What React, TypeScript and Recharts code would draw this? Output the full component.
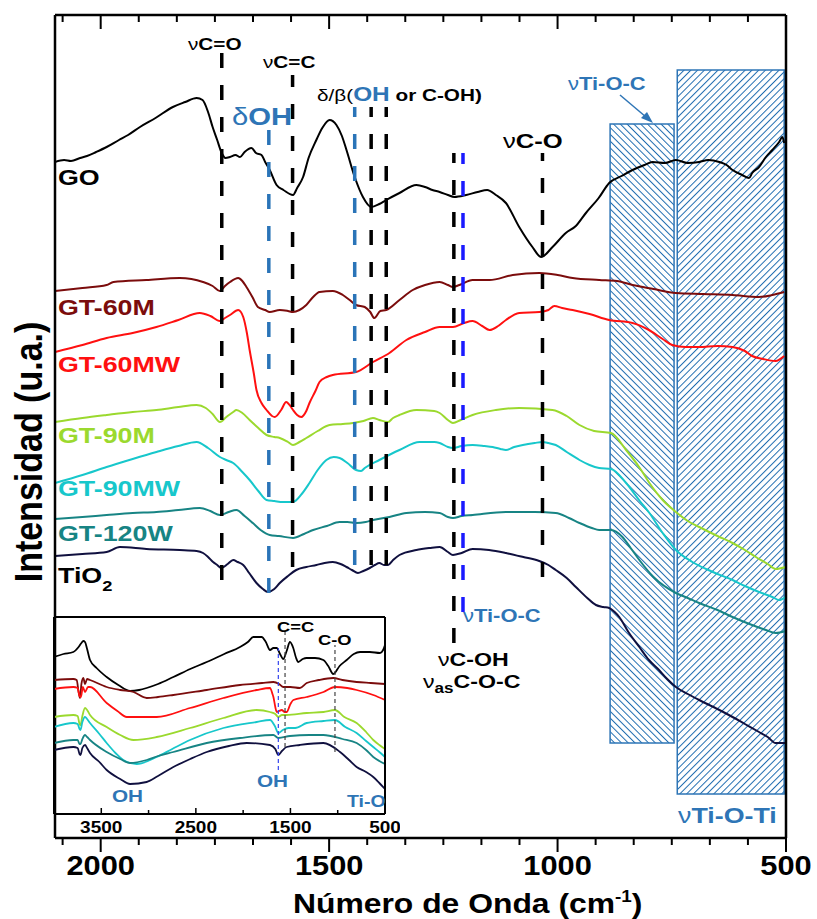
import { LineChart, Line, XAxis, YAxis, ReferenceLine, ReferenceArea } from 'recharts'

const FONT = '"Liberation Sans", Arial, Helvetica, sans-serif'

// espectros principales: [número de onda, intensidad (u.a., desplazada)]
const goData = [
  [2100, 676], [2080, 678], [2065, 677], [2045, 680], [2030, 682], [2010, 686], [1987, 691], [1960, 698],
  [1940, 703], [1914, 711], [1880, 720], [1842, 731], [1815, 736], [1790, 740], [1777, 738], [1765, 726],
  [1755, 711], [1745, 698], [1736, 686], [1727, 680], [1717, 681], [1705, 683], [1695, 681], [1685, 686],
  [1670, 690], [1660, 685], [1648, 683], [1640, 676], [1630, 668], [1615, 653], [1600, 648], [1579, 643],
  [1570, 650], [1557, 661], [1545, 680], [1528, 698], [1515, 710], [1499, 718], [1484, 713], [1472, 702],
  [1462, 688], [1444, 661], [1426, 641], [1408, 631], [1390, 634], [1375, 638], [1346, 645], [1309, 653],
  [1290, 651], [1274, 648], [1258, 646], [1240, 643], [1226, 641], [1200, 643], [1175, 646], [1154, 648],
  [1135, 643], [1113, 635], [1084, 611], [1055, 591], [1036, 581], [1011, 591], [982, 605], [960, 612],
  [938, 625], [910, 640], [887, 655], [860, 662], [836, 668], [810, 673], [792, 676], [765, 675], [741, 678],
  [715, 675], [690, 676], [670, 678], [646, 676], [630, 673], [617, 668], [596, 663], [581, 660], [574, 665],
  [559, 671], [544, 681], [530, 688], [515, 696], [508, 701], [504, 695],
]
const gt60mData = [
  [2100, 547], [2040, 550], [1987, 553], [1972, 556], [1900, 558], [1827, 560], [1776, 556], [1755, 552],
  [1739, 547], [1728, 552], [1717, 556], [1699, 560], [1690, 557], [1681, 551], [1668, 541], [1656, 531],
  [1640, 528], [1630, 526], [1608, 528], [1590, 527], [1579, 526], [1565, 528], [1550, 533], [1535, 541],
  [1521, 546], [1492, 547], [1470, 543], [1455, 538], [1441, 533], [1422, 531], [1410, 526], [1401, 520],
  [1388, 527], [1375, 528], [1346, 538], [1317, 548], [1290, 553], [1258, 556], [1240, 553], [1229, 551],
  [1215, 553], [1186, 558], [1149, 558], [1098, 563], [1040, 565], [1000, 563], [967, 560], [909, 558],
  [870, 557], [836, 553], [790, 549], [741, 545], [680, 544], [617, 543], [559, 541], [530, 543], [504, 546],
]
const gt60mwData = [
  [2100, 486], [2040, 493], [1987, 500], [1930, 505], [1878, 511], [1830, 518], [1783, 525], [1760, 522],
  [1739, 517], [1728, 520], [1717, 523], [1699, 528], [1688, 521], [1680, 505], [1674, 488], [1665, 465],
  [1659, 448], [1648, 435], [1637, 428], [1625, 422], [1619, 421], [1605, 428], [1594, 436], [1585, 432],
  [1579, 428], [1570, 423], [1561, 421], [1550, 427], [1543, 435], [1530, 447], [1521, 456], [1505, 461],
  [1492, 463], [1441, 466], [1404, 476], [1368, 485], [1331, 498], [1290, 506], [1258, 511], [1229, 511],
  [1205, 515], [1186, 517], [1165, 512], [1149, 508], [1130, 512], [1113, 518], [1084, 525], [1040, 526],
  [1020, 528], [1007, 532], [990, 530], [967, 528], [930, 524], [887, 518], [836, 515], [800, 508],
  [770, 499], [749, 493], [720, 491], [690, 491], [650, 492], [617, 491], [590, 487], [574, 482],
  [550, 479], [523, 477], [504, 482],
]
const gt90mData = [
  [2100, 416], [2040, 420], [1987, 423], [1930, 426], [1878, 428], [1830, 431], [1790, 433], [1770, 430],
  [1755, 424], [1739, 416], [1725, 421], [1710, 426], [1703, 428], [1690, 425], [1674, 418], [1655, 410],
  [1637, 403], [1620, 401], [1608, 400], [1590, 396], [1579, 393], [1565, 396], [1550, 400], [1525, 407],
  [1499, 413], [1470, 414], [1448, 415], [1425, 417], [1404, 420], [1390, 418], [1371, 416], [1360, 420],
  [1346, 423], [1309, 428], [1270, 427], [1258, 425], [1240, 418], [1229, 415], [1212, 418], [1186, 423],
  [1135, 428], [1084, 430], [1011, 428], [980, 422], [952, 413], [920, 407], [883, 405], [850, 388],
  [820, 370], [799, 355], [770, 338], [741, 326], [715, 317], [690, 311], [650, 302], [617, 295],
  [590, 288], [566, 281], [540, 274], [523, 269], [501, 271],
]
const gt90mwData = [
  [2100, 355], [2040, 363], [1987, 371], [1930, 379], [1878, 386], [1830, 392], [1790, 396], [1765, 390],
  [1739, 381], [1725, 378], [1710, 375], [1690, 366], [1674, 358], [1655, 347], [1637, 338], [1620, 337],
  [1601, 336], [1579, 336], [1560, 344], [1543, 355], [1525, 368], [1506, 378], [1490, 381], [1477, 380],
  [1460, 375], [1441, 368], [1430, 367], [1422, 370], [1390, 378], [1346, 388], [1302, 396], [1270, 396],
  [1258, 395], [1240, 391], [1229, 390], [1210, 392], [1186, 393], [1160, 392], [1142, 391], [1125, 389],
  [1113, 388], [1095, 391], [1076, 393], [1050, 395], [1033, 396], [1020, 395], [1004, 393], [980, 386],
  [952, 378], [930, 373], [909, 370], [883, 369], [850, 355], [820, 337], [799, 325], [770, 305],
  [741, 288], [705, 276], [660, 266], [617, 258], [590, 252], [559, 246], [530, 241], [515, 238], [501, 241],
]
const gt120wData = [
  [2100, 319], [2040, 321], [1987, 323], [1930, 325], [1878, 326], [1830, 328], [1783, 330], [1760, 327],
  [1739, 323], [1720, 326], [1703, 328], [1685, 322], [1667, 315], [1650, 308], [1630, 303], [1610, 302],
  [1579, 300], [1555, 304], [1535, 308], [1505, 312], [1477, 316], [1460, 316], [1441, 315], [1420, 316],
  [1404, 318], [1368, 321], [1331, 325], [1290, 326], [1258, 325], [1240, 321], [1229, 320], [1210, 322],
  [1186, 323], [1113, 326], [1050, 326], [1004, 325], [975, 320], [952, 315], [925, 310], [909, 308],
  [883, 308], [858, 301], [840, 290], [821, 278], [790, 261], [741, 245], [715, 240], [690, 235],
  [650, 228], [617, 221], [580, 214], [544, 208], [523, 205], [501, 207],
]
const tio2Data = [
  [2100, 282], [2040, 284], [1987, 286], [1958, 291], [1900, 289], [1827, 288], [1790, 287], [1776, 285],
  [1765, 281], [1754, 276], [1745, 273], [1736, 270], [1722, 274], [1710, 278], [1700, 276], [1688, 273],
  [1675, 265], [1659, 255], [1645, 249], [1634, 246], [1620, 249], [1608, 255], [1590, 262], [1572, 268],
  [1550, 271], [1528, 273], [1510, 275], [1492, 276], [1475, 274], [1462, 271], [1450, 268], [1437, 265],
  [1425, 267], [1411, 270], [1400, 273], [1390, 275], [1380, 273], [1371, 273], [1360, 278], [1346, 283],
  [1309, 288], [1280, 290], [1258, 291], [1240, 286], [1229, 283], [1210, 285], [1186, 289], [1150, 288],
  [1113, 285], [1075, 281], [1040, 277], [1020, 273], [1004, 268], [980, 260], [960, 251], [935, 240],
  [916, 233], [900, 231], [887, 230], [875, 226], [865, 221], [845, 206], [821, 191], [800, 178],
  [778, 168], [760, 159], [741, 151], [715, 144], [690, 138], [650, 129], [617, 121], [590, 114],
  [559, 106], [540, 101], [523, 95], [501, 95],
]

// espectros completos del recuadro (4000-500 cm-1)
const insetGO = [
  [4000, 157], [3900, 160], [3796, 162], [3740, 167], [3710, 171], [3690, 173], [3672, 172], [3650, 165],
  [3619, 154], [3550, 146], [3443, 137], [3320, 129], [3196, 123], [3100, 124], [3020, 126], [2900, 130],
  [2738, 137], [2560, 145], [2385, 152], [2200, 160], [2033, 167], [1950, 172], [1892, 177], [1805, 177],
  [1760, 172], [1716, 164], [1680, 166], [1645, 166], [1610, 160], [1575, 155], [1540, 163], [1505, 172],
  [1470, 166], [1440, 156], [1417, 152], [1370, 155], [1328, 156], [1240, 156], [1152, 154], [1100, 148],
  [1047, 140], [980, 148], [905, 154], [830, 160], [764, 162], [660, 162], [553, 161], [520, 164], [500, 169],
]
const insetGT60M = [
  [4000, 134], [3796, 135], [3760, 134], [3740, 122], [3725, 116], [3710, 130], [3690, 136], [3672, 130],
  [3650, 135], [3619, 134], [3443, 127], [3300, 124], [3160, 122], [3020, 116], [2900, 117], [2738, 119],
  [2385, 124], [2033, 129], [1800, 131], [1680, 132], [1620, 130], [1575, 127], [1500, 127], [1400, 126],
  [1328, 131], [1200, 134], [1047, 136], [950, 134], [800, 132], [650, 131], [500, 130],
]
const insetGT60MW = [
  [4000, 125], [3796, 127], [3750, 126], [3730, 118], [3715, 117], [3695, 127], [3672, 122], [3640, 127],
  [3619, 127], [3443, 111], [3330, 103], [3231, 97], [2914, 97], [2562, 106], [2209, 116], [1857, 124],
  [1716, 126], [1690, 120], [1680, 117], [1660, 107], [1645, 102], [1620, 103], [1592, 104], [1560, 102],
  [1540, 102], [1500, 110], [1469, 114], [1328, 117], [1150, 122], [1030, 127], [900, 126], [800, 124],
  [624, 119], [500, 114],
]
const insetGT90M = [
  [4000, 97], [3796, 99], [3750, 98], [3730, 90], [3720, 89], [3700, 98], [3672, 106], [3650, 104],
  [3619, 99], [3443, 87], [3300, 79], [3160, 74], [2914, 77], [2562, 86], [2209, 96], [1857, 104],
  [1716, 102], [1660, 100], [1628, 97], [1590, 99], [1540, 99], [1328, 101], [1150, 102], [1030, 104],
  [930, 97], [800, 91], [700, 82], [624, 74], [560, 69], [500, 65],
]
const insetGT90MW = [
  [4000, 87], [3796, 91], [3750, 90], [3730, 85], [3720, 84], [3700, 92], [3672, 97], [3650, 95],
  [3619, 91], [3520, 80], [3443, 71], [3350, 61], [3267, 54], [3125, 50], [2914, 57], [2750, 65],
  [2562, 74], [2209, 86], [1857, 92], [1716, 94], [1665, 88], [1628, 81], [1580, 84], [1522, 86],
  [1450, 86], [1328, 91], [1150, 93], [1030, 94], [920, 87], [800, 81], [700, 73], [624, 67], [560, 62],
  [500, 57],
]
const insetGT120W = [
  [4000, 71], [3796, 74], [3750, 74], [3730, 70], [3720, 70], [3700, 75], [3672, 79], [3650, 77],
  [3619, 74], [3443, 62], [3300, 55], [3196, 51], [3020, 54], [2900, 58], [2738, 62], [2385, 71],
  [2033, 76], [1680, 79], [1628, 76], [1505, 78], [1300, 79], [1152, 79], [950, 75], [800, 71], [700, 64],
  [624, 57], [560, 53], [500, 50],
]
const insetTiO2 = [
  [4000, 64], [3796, 67], [3750, 66], [3730, 60], [3720, 59], [3700, 66], [3672, 69], [3650, 66],
  [3619, 61], [3520, 52], [3443, 44], [3300, 35], [3196, 30], [3020, 32], [2900, 38], [2738, 47],
  [2560, 55], [2385, 62], [2150, 68], [1963, 71], [1716, 69], [1660, 65], [1628, 59], [1590, 63],
  [1540, 67], [1400, 69], [1152, 71], [975, 62], [880, 54], [800, 47], [700, 42], [624, 37], [560, 31],
  [500, 25],
]

const majorTicks = [2000, 1500, 1000, 500]
const minorTicks = [
  583.33, 666.67, 750, 833.33, 916.67, 1083.33, 1166.67, 1250, 1333.33, 1416.67, 1583.33, 1666.67, 1750,
  1833.33, 1916.67, 2083.33,
]
const insetMajor = [3500, 2500, 1500, 500]
const insetMinor = [3000, 2000, 1000]

const BLUE = '#2e75b6'
const HATCH = '#1f6cb0'
const series = [
  { name: 'GO', data: goData, inset: insetGO, color: '#000000' },
  { name: 'GT-60M', data: gt60mData, inset: insetGT60M, color: '#7b0c0c' },
  { name: 'GT-60MW', data: gt60mwData, inset: insetGT60MW, color: '#ff1010' },
  { name: 'GT-90M', data: gt90mData, inset: insetGT90M, color: '#9bd92e' },
  { name: 'GT-90MW', data: gt90mwData, inset: insetGT90MW, color: '#17c7cb' },
  { name: 'GT-120W', data: gt120wData, inset: insetGT120W, color: '#178484' },
  { name: 'TiO2', data: tio2Data, inset: insetTiO2, color: '#10103f' },
]

// líneas de asignación: número de onda, tramo vertical
const bandLines = [
  { w: 1735, y1: 258, y2: 786, c: '#000' },
  { w: 1580, y1: 271, y2: 763, c: '#000' },
  { w: 1632, y1: 245, y2: 708, c: '#2a74b8' },
  { w: 1444, y1: 273, y2: 731, c: '#2a74b8' },
  { w: 1408, y1: 273, y2: 731, c: '#000' },
  { w: 1375, y1: 273, y2: 731, c: '#000' },
  { w: 1227, y1: 195, y2: 685, c: '#000' },
  { w: 1207, y1: 226, y2: 685, c: '#1a1aff' },
  { w: 1033, y1: 261, y2: 685, c: '#000' },
]
const insetLines = [
  { w: 1557, y1: 67, y2: 184, c: '#444' },
  { w: 1628, y1: 44, y2: 166, c: '#3344ee' },
  { w: 1029, y1: 62, y2: 169, c: '#444' },
]

const toPts = (arr: number[][]) => arr.map(([w, v]) => ({ w, v }))

function BottomTick(props: any) {
  const { x, y, payload } = props
  const major = majorTicks.includes(payload.value)
  return (
    <g>
      <line x1={x} x2={x} y1={y} y2={y + (major ? 14 : 7)} stroke="#000" strokeWidth={2} />
      {major && (
        <text transform={`translate(${x} ${y + 37}) scale(1.1 1)`} textAnchor="middle" fontSize={28}
          fontWeight={700} fontFamily={FONT} fill="#000">
          {payload.value}
        </text>
      )}
    </g>
  )
}

function TopTick(props: any) {
  const { x, y, payload } = props
  const major = majorTicks.includes(payload.value)
  return <line x1={x} x2={x} y1={y} y2={y + (major ? 14 : 7)} stroke="#000" strokeWidth={2} />
}

function InsetTick(props: any) {
  const { x, y, payload } = props
  const major = insetMajor.includes(payload.value)
  return (
    <g>
      <line x1={x} x2={x} y1={y} y2={y - (major ? 6 : 4)} stroke="#000" strokeWidth={1.5} />
      {major && (
        <text transform={`translate(${x} ${y + 19}) scale(1.12 1)`} textAnchor="middle" fontSize={17}
          fontWeight={700} fontFamily={FONT} fill="#000">
          {payload.value}
        </text>
      )}
    </g>
  )
}

function Lbl({ x, y, size, color = '#000', weight = 700, sx = 1.22, anchor = 'start', children }: any) {
  return (
    <text transform={`translate(${x} ${y}) scale(${sx} 1)`} fontSize={size} fill={color} fontWeight={weight}
      textAnchor={anchor} fontFamily={FONT}>
      {children}
    </text>
  )
}

const axisStyle = { stroke: '#000', strokeWidth: 2.5 }
const insetAxis = { stroke: '#000', strokeWidth: 2 }

export default function App() {
  return (
    <div style={{ position: 'absolute', left: 0, top: 0, width: 817, height: 919, background: '#fff' }}>
      <svg width={0} height={0} style={{ position: 'absolute' }}>
        <defs>
          <pattern id="hatchBack" patternUnits="userSpaceOnUse" width={4.8} height={4.8} patternTransform="rotate(-45)">
            <line x1={0} y1={0} x2={0} y2={4.8} stroke={HATCH} strokeWidth={2} />
          </pattern>
          <pattern id="hatchFwd" patternUnits="userSpaceOnUse" width={4.8} height={4.8} patternTransform="rotate(45)">
            <line x1={0} y1={0} x2={0} y2={4.8} stroke={HATCH} strokeWidth={2} />
          </pattern>
        </defs>
      </svg>

      <div style={{ position: 'absolute', left: 0, top: 0 }}>
        <LineChart width={817} height={919} margin={{ top: 14, right: 30, left: 54, bottom: 0 }}>
          <XAxis dataKey="w" type="number" domain={[500, 2100]} reversed allowDataOverflow
            ticks={[...majorTicks, ...minorTicks]} interval={0} tickLine={false} tickSize={0} tickMargin={0}
            tick={(p: any) => <BottomTick {...p} />} height={81} axisLine={axisStyle} />
          <XAxis xAxisId="top" orientation="top" dataKey="w" type="number" domain={[500, 2100]} reversed
            allowDataOverflow ticks={[...majorTicks, ...minorTicks]} interval={0} tickLine={false} tickSize={0}
            tickMargin={0} tick={(p: any) => <TopTick {...p} />} height={1} axisLine={axisStyle} />
          <YAxis type="number" domain={[0, 823]} tick={false} tickLine={false} width={1} axisLine={axisStyle} />
          <YAxis yAxisId="r" orientation="right" type="number" domain={[0, 823]} tick={false} tickLine={false}
            width={1} axisLine={axisStyle} />

          <ReferenceArea x1={885} x2={745} y1={95} y2={714} fill="url(#hatchBack)" fillOpacity={1}
            stroke={BLUE} strokeWidth={1.5} />
          <ReferenceArea x1={738} x2={504} y1={44} y2={768} fill="url(#hatchFwd)" fillOpacity={1}
            stroke={BLUE} strokeWidth={1.5} />

          {series.map((s) => (
            <Line key={s.name} data={toPts(s.data)} dataKey="v" type="monotone" dot={false} stroke={s.color}
              strokeWidth={2} isAnimationActive={false} />
          ))}

          {bandLines.map((b, i) => (
            <ReferenceLine key={i} segment={[{ x: b.w, y: b.y1 }, { x: b.w, y: b.y2 }]} stroke={b.c}
              strokeWidth={3.5} strokeDasharray="15 17" />
          ))}
        </LineChart>
      </div>

      <div style={{ position: 'absolute', left: 0, top: 600 }}>
        <LineChart width={400} height={240} margin={{ top: 16, right: 14, left: 53, bottom: 0 }}>
          <XAxis dataKey="w" type="number" domain={[500, 4000]} reversed allowDataOverflow
            ticks={[...insetMajor, ...insetMinor]} interval={0} tickLine={false} tickSize={0} tickMargin={0}
            tick={(p: any) => <InsetTick {...p} />} height={26} axisLine={insetAxis} />
          <XAxis xAxisId="top" orientation="top" dataKey="w" type="number" domain={[500, 4000]} reversed
            tick={false} tickLine={false} height={1} axisLine={insetAxis} />
          <YAxis type="number" domain={[0, 197]} tick={false} tickLine={false} width={1} axisLine={insetAxis} />
          <YAxis yAxisId="r" orientation="right" type="number" domain={[0, 197]} tick={false} tickLine={false}
            width={1} axisLine={insetAxis} />
          {series.map((s) => (
            <Line key={s.name} data={toPts(s.inset)} dataKey="v" type="monotone" dot={false} stroke={s.color}
              strokeWidth={1.8} isAnimationActive={false} />
          ))}
          {insetLines.map((b, i) => (
            <ReferenceLine key={i} segment={[{ x: b.w, y: b.y1 }, { x: b.w, y: b.y2 }]} stroke={b.c}
              strokeWidth={1.2} strokeDasharray="4 3" />
          ))}
        </LineChart>
      </div>

      <svg width={817} height={919} style={{ position: 'absolute', left: 0, top: 0, pointerEvents: 'none' }}>
        {/* nombres de muestras */}
        <Lbl x={58} y={185} size={22} color="#000">GO</Lbl>
        <Lbl x={58} y={315} size={22} color="#7b0c0c">GT-60M</Lbl>
        <Lbl x={58} y={372} size={22} color="#ff1010">GT-60MW</Lbl>
        <Lbl x={58} y={443} size={22} color="#9bd92e">GT-90M</Lbl>
        <Lbl x={58} y={496} size={22} color="#17c7cb">GT-90MW</Lbl>
        <Lbl x={58} y={541} size={22} color="#178484">GT-120W</Lbl>
        <Lbl x={58} y={583} size={22} color="#000">
          TiO<tspan dy={8} fontSize={15}>2</tspan>
        </Lbl>

        {/* asignaciones */}
        <Lbl x={188} y={50} size={17}><tspan fontWeight={400}>ν</tspan>C=O</Lbl>
        <Lbl x={263} y={68} size={17}><tspan fontWeight={400}>ν</tspan>C=C</Lbl>
        <Lbl x={232} y={125} size={24} color={BLUE}><tspan fontWeight={400}>δ</tspan>OH</Lbl>
        <Lbl x={317} y={101} size={17}>
          <tspan fontWeight={400}>δ/β(</tspan>
          <tspan fill={BLUE} fontSize={20}>OH</tspan> or C-OH)
        </Lbl>
        <Lbl x={503} y={148} size={21}><tspan fontWeight={400}>ν</tspan>C-O</Lbl>
        <Lbl x={568} y={90} size={18} color={BLUE}><tspan fontWeight={400}>ν</tspan>Ti-O-C</Lbl>
        <line x1={620} y1={95} x2={646} y2={117} stroke={BLUE} strokeWidth={1.5} />
        <polygon points="653,123 641,118 647,112" fill={BLUE} />
        <Lbl x={463} y={622} size={18} color={BLUE}><tspan fontWeight={400}>ν</tspan>Ti-O-C</Lbl>
        <Lbl x={438} y={666} size={19}><tspan fontWeight={400}>ν</tspan>C-OH</Lbl>
        <Lbl x={423} y={688} size={19}>
          <tspan fontWeight={400}>ν</tspan>
          <tspan dy={5} fontSize={14}>as</tspan>
          <tspan dy={-5}>C-O-C</tspan>
        </Lbl>
        <Lbl x={678} y={823} size={22} color={BLUE}><tspan fontWeight={400}>ν</tspan>Ti-O-Ti</Lbl>

        {/* recuadro */}
        <Lbl x={277} y={632} size={15}>C=C</Lbl>
        <Lbl x={318} y={645} size={15}>C-O</Lbl>
        <Lbl x={112} y={802} size={17} color={BLUE}>OH</Lbl>
        <Lbl x={257} y={787} size={17} color={BLUE}>OH</Lbl>
        <Lbl x={347} y={807} size={16} color={BLUE}>Ti-O</Lbl>

        {/* títulos de ejes */}
        <Lbl x={293} y={913} size={27} sx={1.18}>
          Número de Onda (cm<tspan dy={-11} fontSize={16}>-1</tspan><tspan dy={11}>)</tspan>
        </Lbl>
        <text transform="translate(42 452) rotate(-90) scale(1 1.13)" textAnchor="middle" fontSize={34}
          fontWeight={700} fontFamily={FONT} fill="#000">
          Intensidad (u.a.)
        </text>
      </svg>
    </div>
  )
}
